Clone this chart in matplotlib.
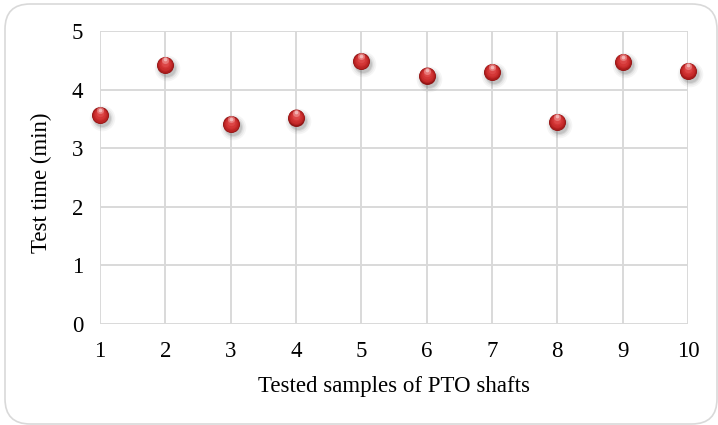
import matplotlib
matplotlib.use("Agg")
import matplotlib.pyplot as plt
from matplotlib.patches import FancyBboxPatch
from matplotlib import transforms
import numpy as np

# Test durations for each PTO shaft sample
samples = [1, 2, 3, 4, 5, 6, 7, 8, 9, 10]
test_time = [3.56, 4.42, 3.41, 3.52, 4.48, 4.24, 4.30, 3.45, 4.47, 4.32]
x_ticks = [1, 2, 3, 4, 5, 6, 7, 8, 9, 10]
y_ticks = [0, 1, 2, 3, 4, 5]

plt.rcParams['font.family'] = ['Liberation Serif', 'DejaVu Serif']

fig = plt.figure(figsize=(7.18, 4.25), dpi=100)
ax = fig.add_axes([100 / 718, 1 - 324 / 425, 588 / 718, 293 / 425])

# Rounded chart frame
frame = FancyBboxPatch((5 / 718, 1 - 424 / 425), 712 / 718, 420 / 425,
                       boxstyle="round,pad=0,rounding_size=0.035",
                       transform=fig.transFigure, facecolor='none',
                       edgecolor='#d9d9d9', linewidth=1.2, mutation_aspect=718 / 425)
fig.patches.append(frame)

grid_c = '#d9d9d9'
fs = 16.5
ax.set_xlim(1, 10)
ax.set_ylim(0, 5)
ax.set_xticks(x_ticks)
ax.set_yticks(y_ticks)
ax.grid(True, color=grid_c, linewidth=1.4)
ax.set_axisbelow(True)
for s in ax.spines.values():
    s.set_visible(False)
ax.tick_params(length=0, labelsize=fs, pad=12, colors='#000000')
ax.set_xlabel('Tested samples of PTO shafts', fontsize=fs, labelpad=10)
ax.set_ylabel('Test time (min)', fontsize=fs)
ax.yaxis.set_label_coords(-0.082, 0.481)

# Shaded sphere markers
x = np.array(samples, dtype=float)
y = np.array(test_time, dtype=float)
d = 17  # marker diameter in px

def px_offset(dx, dy):
    return transforms.offset_copy(ax.transData, fig=fig, x=dx, y=dy, units='dots')

def size(dpx):
    return (dpx * 72 / fig.dpi) ** 2

# soft drop shadow
for k, a in [(1.5, 0.05), (1.3, 0.07), (1.12, 0.10), (1.0, 0.12)]:
    ax.scatter(x, y, s=size(d * k), color='#404040', alpha=a, linewidths=0,
               transform=px_offset(2, -3), zorder=3, clip_on=False)

# body: dark rim to lighter core
shades = [(1.00, '#8e1414', 0, 0), (0.94, '#a81c1c', 0, 0.3), (0.86, '#bb2424', 0, 0.6),
          (0.74, '#c92d2d', 0, 1.0), (0.60, '#d33636', 0, 1.5), (0.44, '#dc4646', 0, 2.2)]
for k, c, dx, dy in shades:
    ax.scatter(x, y, s=size(d * k), color=c, linewidths=0,
               transform=px_offset(dx, dy), zorder=4, clip_on=False)

# specular highlight near the top
ax.scatter(x, y, s=size(d * 0.42), color='#f2a0a0', alpha=0.55, linewidths=0,
           transform=px_offset(0, 5), zorder=5, clip_on=False)
ax.scatter(x, y, s=size(d * 0.22), color='#fbe0e0', alpha=0.6, linewidths=0,
           transform=px_offset(0, 5.5), zorder=5, clip_on=False)

fig.savefig('out.png', dpi=100)
